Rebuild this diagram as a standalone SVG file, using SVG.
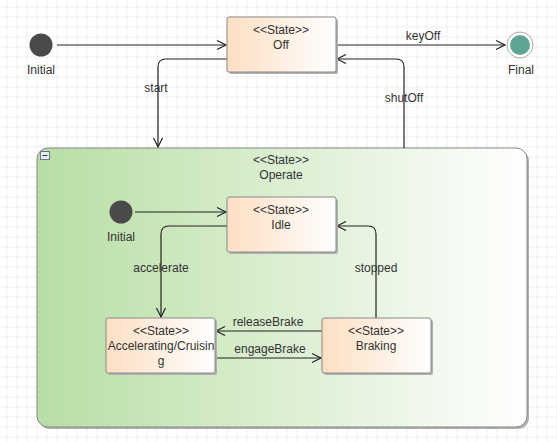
<svg xmlns="http://www.w3.org/2000/svg" width="557" height="442" viewBox="0 0 557 442">
<style>
text{font-family:"Liberation Sans",Arial,sans-serif;font-size:12px;fill:#333;text-anchor:middle}
.state{fill:url(#peach);stroke:#8a8a8a;stroke-width:1}
.shadow{fill:#b0b0b0}
.conn{fill:none;stroke:#222;stroke-width:1.2}
.init{fill:#4a4a4a}
</style>
<defs>
<pattern id="grid" width="10" height="10" patternUnits="userSpaceOnUse" x="6.5" y="6.5">
<path d="M0 0.5H10M0.5 0V10" fill="none" stroke="#efefef" stroke-width="1"/>
</pattern>
<linearGradient id="peach" x1="0" y1="0" x2="1" y2="0">
<stop offset="0" stop-color="#fddfc3"/>
<stop offset="1" stop-color="#ffffff"/>
</linearGradient>
<linearGradient id="green" x1="0" y1="0" x2="1" y2="0">
<stop offset="0" stop-color="#b8dea4"/>
<stop offset="1" stop-color="#ffffff"/>
</linearGradient>
<marker id="arr" markerWidth="12" markerHeight="12" refX="10" refY="6" orient="auto" markerUnits="userSpaceOnUse">
<path d="M1 1.5L10 6L1 10.5" fill="none" stroke="#222" stroke-width="1.2"/>
</marker>
</defs>
<rect width="557" height="442" fill="#ffffff"/>
<rect width="557" height="442" fill="url(#grid)"/>

<g id="Operate">
<rect x="39" y="150" width="490" height="279" rx="11" class="shadow"/>
<rect x="37" y="148" width="490" height="279" rx="11" fill="url(#green)" stroke="#888" stroke-width="1"/>
<rect x="40.5" y="151.5" width="9" height="8" fill="#e6ecf2" stroke="#6a7a8a" stroke-width="1"/>
<line x1="42.5" y1="155.5" x2="47.5" y2="155.5" stroke="#333" stroke-width="1"/>
<text x="281" y="164">&lt;&lt;State&gt;&gt;</text>
<text x="281" y="179">Operate</text>
</g>

<g id="connectors">
<line x1="57" y1="45" x2="226" y2="45" class="conn" marker-end="url(#arr)"/>
<line x1="336" y1="45" x2="505" y2="45" class="conn" stroke="#555" stroke-width="1.6" marker-end="url(#arr)"/>
<path d="M227 59H166Q158 59 158 67V147" class="conn" marker-end="url(#arr)"/>
<path d="M404 148V67Q404 59 396 59H337" class="conn" marker-end="url(#arr)"/>
<line x1="135" y1="212" x2="226" y2="212" class="conn" marker-end="url(#arr)"/>
<path d="M227 226H169Q161 226 161 234V317" class="conn" marker-end="url(#arr)"/>
<path d="M376 318V234Q376 226 368 226H337" class="conn" marker-end="url(#arr)"/>
<line x1="322" y1="331" x2="216" y2="331" class="conn" marker-end="url(#arr)"/>
<line x1="216" y1="358" x2="321" y2="358" class="conn" marker-end="url(#arr)"/>
<text x="423" y="40">keyOff</text>
<text x="156" y="92">start</text>
<text x="404" y="102">shutOff</text>
<text x="161" y="272">accelerate</text>
<text x="376" y="272">stopped</text>
<text x="268" y="326">releaseBrake</text>
<text x="270" y="353">engageBrake</text>
</g>

<g id="InitialTop">
<circle cx="41" cy="45" r="11.5" class="init"/>
<text x="41" y="74">Initial</text>
</g>

<g id="Off">
<rect x="229" y="19" width="109" height="55" rx="2" class="shadow"/>
<rect x="227" y="17" width="109" height="55" rx="2" class="state"/>
<text x="281" y="34">&lt;&lt;State&gt;&gt;</text>
<text x="281" y="49">Off</text>
</g>

<g id="Final">
<circle cx="520" cy="45" r="13" fill="#fff" stroke="#aaa" stroke-width="1"/>
<circle cx="520" cy="45" r="10" fill="#5fa595"/>
<text x="521" y="74">Final</text>
</g>

<g id="InitialInner">
<circle cx="121" cy="212" r="11.5" class="init"/>
<text x="121" y="241">Initial</text>
</g>

<g id="Idle">
<rect x="229" y="199" width="109" height="55" rx="2" class="shadow"/>
<rect x="227" y="197" width="109" height="55" rx="2" class="state"/>
<text x="281" y="214">&lt;&lt;State&gt;&gt;</text>
<text x="281" y="229">Idle</text>
</g>

<g id="Accelerating">
<rect x="108" y="320" width="109" height="55" rx="2" class="shadow"/>
<rect x="106" y="318" width="109" height="55" rx="2" class="state"/>
<text x="161" y="335">&lt;&lt;State&gt;&gt;</text>
<text x="161" y="350">Accelerating/Cruisin</text>
<text x="161" y="365">g</text>
</g>

<g id="Braking">
<rect x="324" y="320" width="109" height="55" rx="2" class="shadow"/>
<rect x="322" y="318" width="109" height="55" rx="2" class="state"/>
<text x="376" y="335">&lt;&lt;State&gt;&gt;</text>
<text x="376" y="350">Braking</text>
</g>
</svg>
